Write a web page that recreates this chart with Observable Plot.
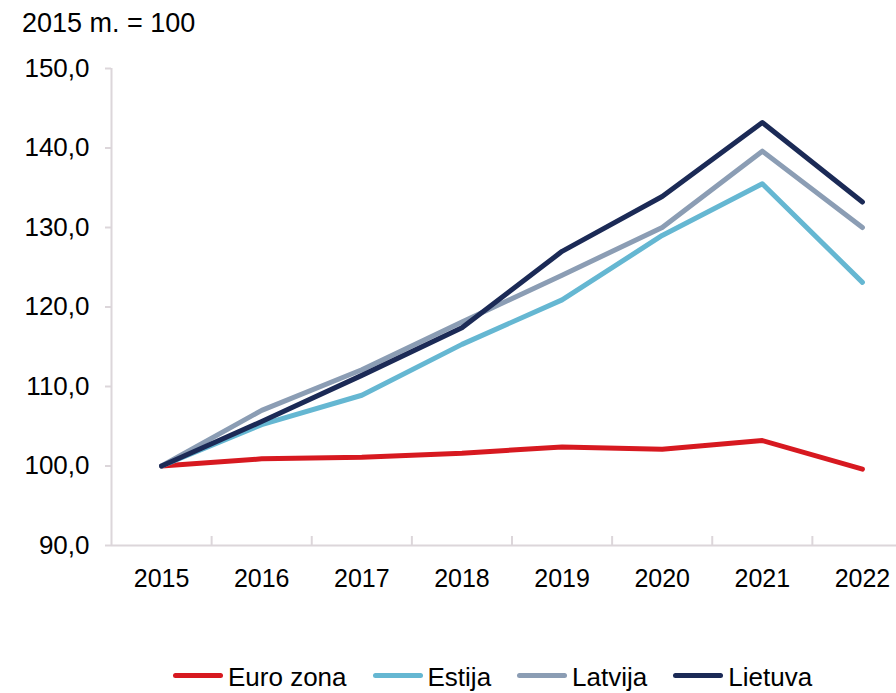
<!DOCTYPE html>
<html><head><meta charset="utf-8">
<script src="https://cdn.jsdelivr.net/npm/d3@7"></script>
<script src="https://cdn.jsdelivr.net/npm/@observablehq/plot@0.6"></script>
<style>
body{margin:0;background:#fff;font-family:"Liberation Sans",Arial,sans-serif;color:#000;}
#wrap{position:relative;width:896px;height:693px;overflow:hidden;background:#fff;}
#title{position:absolute;left:22px;top:10px;font-size:27px;line-height:27px;white-space:nowrap;}
#chart{position:absolute;left:0;top:45px;width:896px;height:580px;}
#legend{position:absolute;left:173px;top:664px;display:flex;align-items:center;font-size:26px;line-height:26px;white-space:nowrap;}
.item{display:flex;align-items:center;margin-right:26px;}
.sw{display:inline-block;width:50px;height:5px;border-radius:3px;margin-right:5px;position:relative;top:-2px;}
</style></head><body>
<div id="wrap">
  <div id="title">2015 m. = 100</div>
  <div id="chart"></div>
  <div id="legend"></div>
</div>
<script>
const years = [2015, 2016, 2017, 2018, 2019, 2020, 2021, 2022];
const euroZona = [100, 100.9, 101.1, 101.6, 102.4, 102.1, 103.2, 99.6];
const estija   = [100, 105.2, 108.9, 115.3, 120.9, 129.0, 135.5, 123.1];
const latvija  = [100, 107.0, 112.1, 118.1, 124.0, 130.0, 139.6, 130.0];
const lietuva  = [100, 105.6, 111.4, 117.4, 127.0, 133.9, 143.2, 133.2];
const seriesNames = ["Euro zona", "Estija", "Latvija", "Lietuva"];
const seriesColors = ["#d71920", "#65b7d2", "#8b9db4", "#1b2a56"];
const yTicks = [90, 100, 110, 120, 130, 140, 150];

const seriesValues = [euroZona, estija, latvija, lietuva];
const data = [];
seriesNames.forEach((name, i) => {
  years.forEach((yr, j) => data.push({series: name, year: yr, value: seriesValues[i][j]}));
});

const axisColor = "#dcd6da";
const boundaries = years.slice(0, -1).map(y => y + 0.5);

const plot = Plot.plot({
  width: 896,
  height: 580,
  marginTop: 23,
  marginBottom: 80,
  marginLeft: 111,
  marginRight: 0,
  style: {fontFamily: "'Liberation Sans', Arial, sans-serif", fontSize: "26px", color: "#000", background: "transparent", overflow: "hidden"},
  x: {domain: [years[0] - 0.5, years[years.length - 1] + 0.5], range: [111, 912]},
  y: {domain: [yTicks[0], yTicks[yTicks.length - 1]]},
  color: {domain: seriesNames, range: seriesColors},
  marks: [
    Plot.ruleX([years[0] - 0.5], {stroke: axisColor, strokeWidth: 2}),
    Plot.ruleY([yTicks[0]], {stroke: axisColor, strokeWidth: 2}),
    Plot.axisY({ticks: yTicks, tickSize: 6, tickPadding: 16, stroke: axisColor, strokeWidth: 2, fill: "#000", fontSize: 26, tickFormat: d => d.toFixed(1).replace(".", ","), label: null}),
    Plot.axisX({ticks: years, tickSize: 0, tickPadding: 24, fill: "#000", fontSize: 25, tickFormat: d => String(d), label: null}),
    Plot.axisX({ticks: boundaries, tickSize: -9, stroke: axisColor, strokeWidth: 2, tickFormat: () => "", label: null}),
    Plot.line(data, {x: "year", y: "value", z: "series", stroke: "series", strokeWidth: 5, strokeLinecap: "round", strokeLinejoin: "round"})
  ]
});
document.getElementById("chart").appendChild(plot);

const legend = document.getElementById("legend");
seriesNames.forEach((name, i) => {
  const item = document.createElement("div");
  item.className = "item";
  const sw = document.createElement("span");
  sw.className = "sw";
  sw.style.background = seriesColors[i];
  const tx = document.createElement("span");
  tx.textContent = name;
  item.appendChild(sw);
  item.appendChild(tx);
  legend.appendChild(item);
});
</script>
</body></html>
